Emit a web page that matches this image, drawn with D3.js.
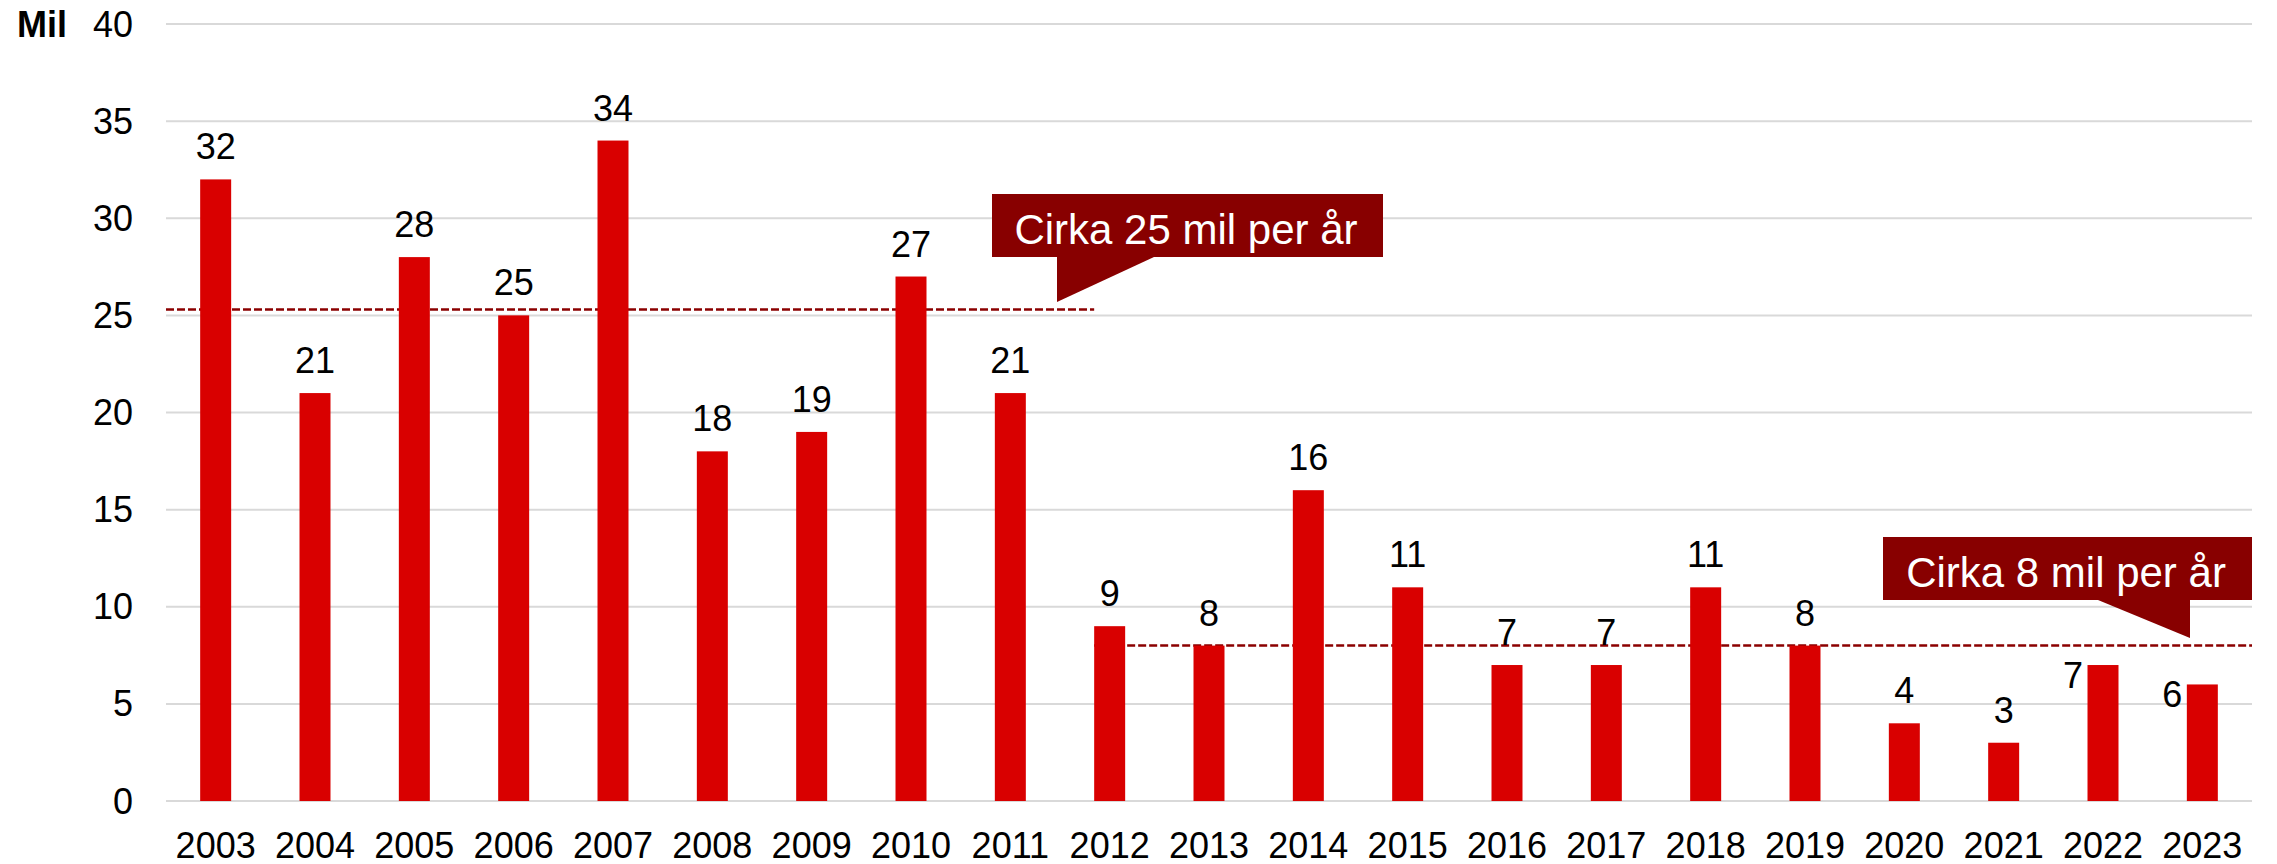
<!DOCTYPE html>
<html>
<head>
<meta charset="utf-8">
<script src="https://cdn.jsdelivr.net/npm/d3@7"></script>
<style>
  body { margin: 0; background: #fff; }
  text { font-family: Arial, "Liberation Sans", sans-serif; }
</style>
</head>
<body>
<div id="chart"></div>
<script>
var years = ["2003","2004","2005","2006","2007","2008","2009","2010","2011","2012","2013",
  "2014","2015","2016","2017","2018","2019","2020","2021","2022","2023"];
var values = [32, 21, 28, 25, 34, 18, 19, 27, 21, 9, 8, 16, 11, 7, 7, 11, 8, 4, 3, 7, 6];
var yTicks = [0, 5, 10, 15, 20, 25, 30, 35, 40];
var unitLabel = "Mil";
// average levels: from, to (year), value, note
var levels = [
  { from: "2003", to: "2012", value: 25.3, note: "Cirka 25 mil per år" },
  { from: "2012", to: null, value: 8, note: "Cirka 8 mil per år" }
];

var width = 2277, height = 864;
var plotLeft = 166, plotRight = 2252, plotTop = 24, plotBottom = 801;

var svg = d3.select("#chart").append("svg")
  .attr("width", width)
  .attr("height", height);

var x = d3.scaleBand()
  .domain(years)
  .range([plotLeft, plotRight])
  .paddingInner(0.688)
  .paddingOuter(0.344);

var y = d3.scaleLinear()
  .domain([0, 40])
  .range([plotBottom, plotTop]);

// gridlines
svg.append("g")
  .selectAll("line")
  .data(yTicks)
  .enter().append("line")
  .attr("x1", plotLeft)
  .attr("x2", plotRight)
  .attr("y1", d => y(d))
  .attr("y2", d => y(d))
  .attr("stroke", "#d9d9d9")
  .attr("stroke-width", 2);

// y tick labels
svg.append("g")
  .selectAll("text")
  .data(yTicks)
  .enter().append("text")
  .attr("x", 133)
  .attr("y", d => y(d))
  .attr("dy", "0.35em")
  .attr("text-anchor", "end")
  .attr("font-size", 36)
  .attr("fill", "#000")
  .text(d => d);

svg.append("text")
  .attr("x", 17)
  .attr("y", y(40))
  .attr("dy", "0.35em")
  .attr("font-size", 36)
  .attr("font-weight", "bold")
  .text(unitLabel);

// dashed average lines (under the bars)
svg.append("g")
  .selectAll("line")
  .data(levels)
  .enter().append("line")
  .attr("x1", d => d.from == years[0] ? plotLeft : x(d.from))
  .attr("x2", d => d.to ? x(d.to) : plotRight)
  .attr("y1", d => y(d.value))
  .attr("y2", d => y(d.value))
  .attr("stroke", "#8b0000")
  .attr("stroke-width", 2.5)
  .attr("stroke-dasharray", "8,3");

// bars
svg.append("g")
  .selectAll("rect")
  .data(values)
  .enter().append("rect")
  .attr("x", (d, i) => x(years[i]))
  .attr("y", d => y(d))
  .attr("width", x.bandwidth())
  .attr("height", d => plotBottom - y(d))
  .attr("fill", "#d90000");

// value labels; the last two are moved left so they stay clear of the callout
var shifted = { "2022": true, "2023": true };
svg.append("g")
  .selectAll("text")
  .data(values)
  .enter().append("text")
  .attr("x", (d, i) => x(years[i]) + x.bandwidth() / 2 - (shifted[years[i]] ? 30 : 0))
  .attr("y", (d, i) => shifted[years[i]] ? y(d) + 23 : y(d) - 20)
  .attr("text-anchor", "middle")
  .attr("font-size", 36)
  .text(d => d);

// x axis labels
svg.append("g")
  .selectAll("text")
  .data(years)
  .enter().append("text")
  .attr("x", d => x(d) + x.bandwidth() / 2)
  .attr("y", 858)
  .attr("text-anchor", "middle")
  .attr("font-size", 36)
  .text(d => d);

// callouts
var boxes = [
  { box: [992, 194, 391, 63], tail: [[1057, 257], [1154, 257], [1057, 302]], tx: 1186, ty: 244 },
  { box: [1883, 537, 369, 63], tail: [[2098, 600], [2190, 600], [2190, 638]], tx: 2066, ty: 587 }
];
boxes.forEach(function (b, i) {
  var g = svg.append("g");
  g.append("rect")
    .attr("x", b.box[0]).attr("y", b.box[1])
    .attr("width", b.box[2]).attr("height", b.box[3])
    .attr("fill", "#880000");
  g.append("path")
    .attr("d", d3.line()(b.tail) + "Z")
    .attr("fill", "#880000");
  g.append("text")
    .attr("x", b.tx)
    .attr("y", b.ty)
    .attr("text-anchor", "middle")
    .attr("font-size", 42)
    .attr("fill", "#fff")
    .text(levels[i].note);
});
</script>
</body>
</html>
